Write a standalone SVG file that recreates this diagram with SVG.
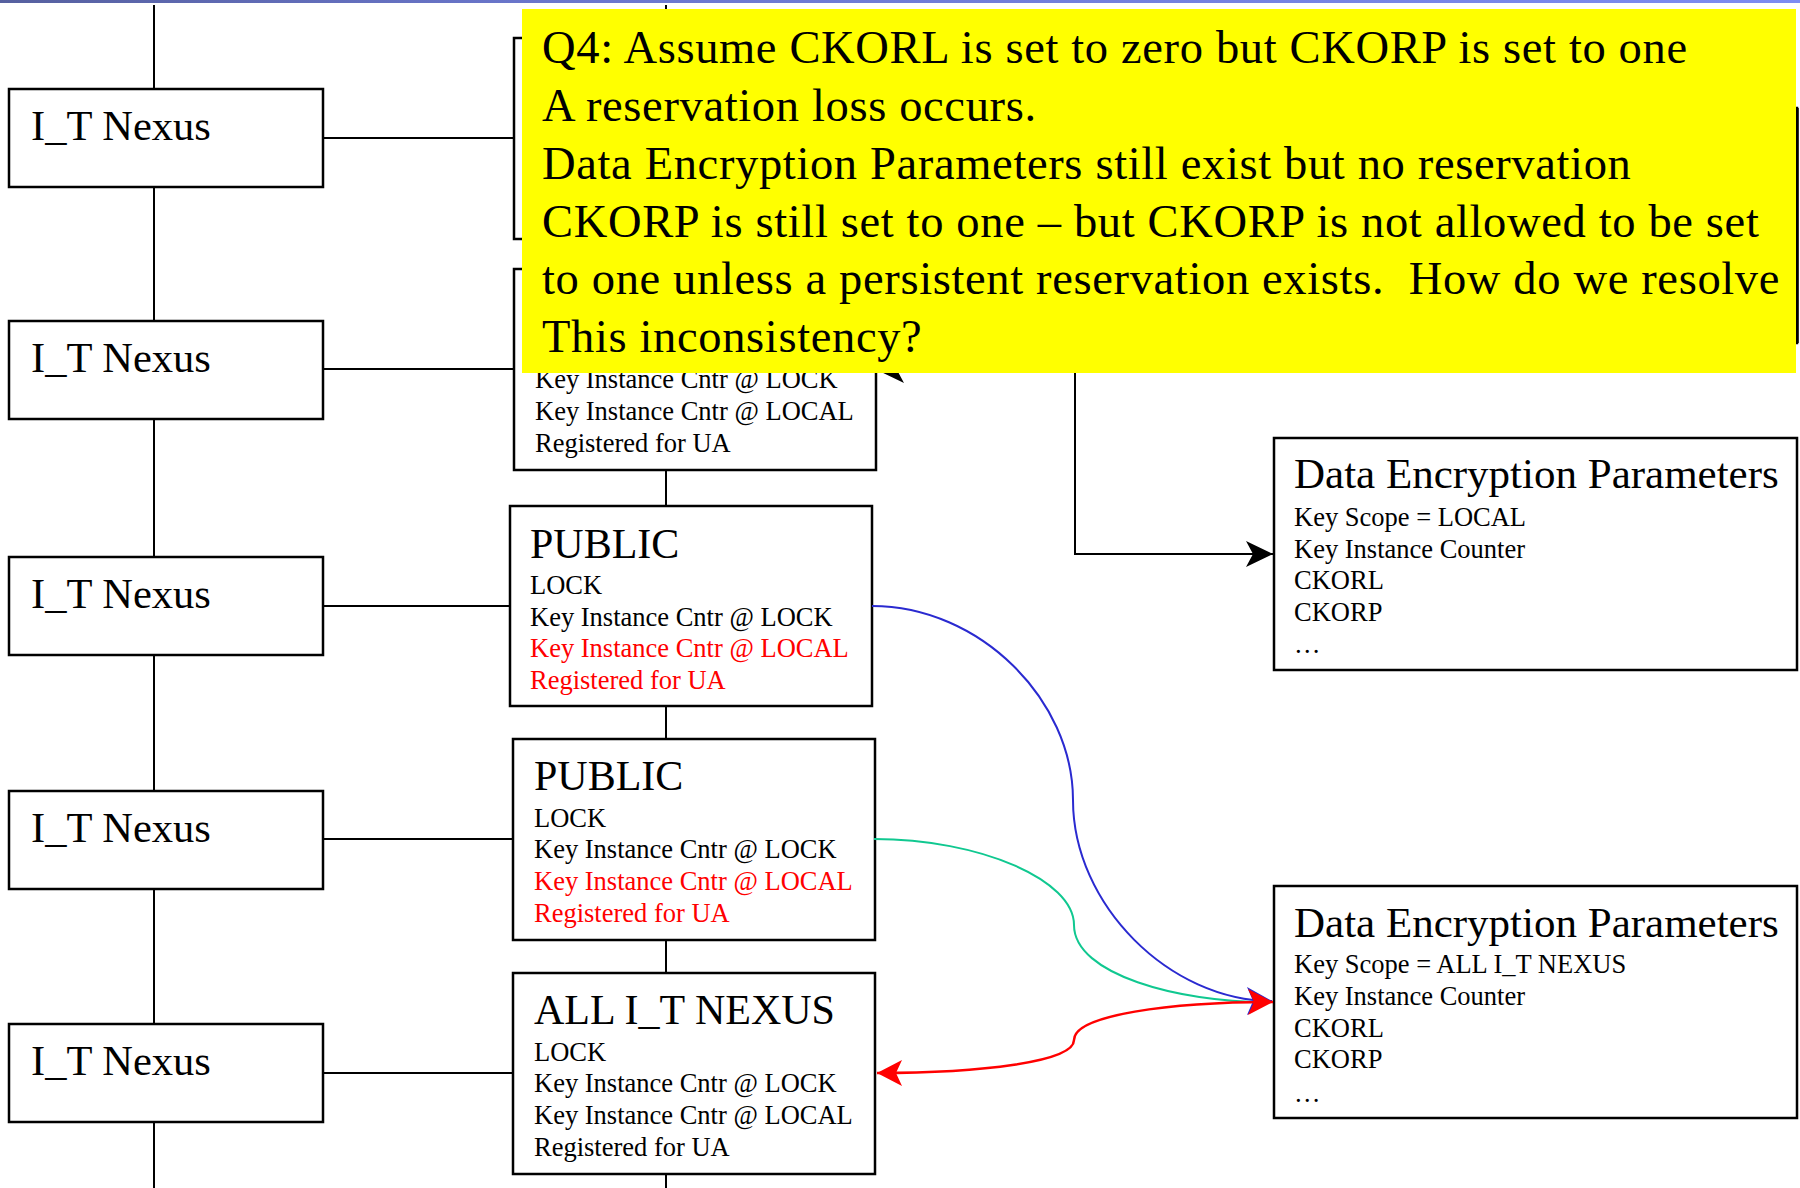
<svg xmlns="http://www.w3.org/2000/svg" width="1800" height="1188" viewBox="0 0 1800 1188">
  <style>
    text { font-family: "Liberation Serif", "Times New Roman", serif; fill: #000; }
    .box { fill: #fff; stroke: #000; stroke-width: 2.5; }
    .wire { fill: none; stroke: #000; stroke-width: 2; }
    .nexus { font-size: 42.5px; }
    .title { font-size: 42px; }
    .dep { font-size: 43px; }
    .item { font-size: 26.5px; }
    .red { fill: #ff0000; }
    .note { font-size: 46.5px; letter-spacing: 0.65px; }
  </style>
  <defs>
    <linearGradient id="band" x1="0" y1="0" x2="1" y2="0">
      <stop offset="0" stop-color="#56609f"/>
      <stop offset="0.3" stop-color="#6a76cc"/>
      <stop offset="1" stop-color="#7d8cf2"/>
    </linearGradient>
    <marker id="headBlack" viewBox="-30 -15 32 30" markerWidth="32" markerHeight="30" refX="0" refY="0" markerUnits="userSpaceOnUse" orient="auto-start-reverse">
      <path d="M0,0 L-27,-13 L-20,0 L-27,13 Z" fill="#000"/>
    </marker>
    <marker id="headRed" viewBox="-30 -15 32 30" markerWidth="32" markerHeight="30" refX="0" refY="0" markerUnits="userSpaceOnUse" orient="auto-start-reverse">
      <path d="M0,0 L-25,-13 L-19,0 L-25,13 Z" fill="#ff0000"/>
    </marker>
    <marker id="headBlue" viewBox="-30 -15 32 30" markerWidth="32" markerHeight="30" refX="0" refY="0" markerUnits="userSpaceOnUse" orient="auto">
      <path d="M0,0 L-25,-14 L-19,0 L-25,14 Z" fill="#2a2ad0"/>
    </marker>
  </defs>

  <rect width="1800" height="1188" fill="#fff"/>
  <rect x="0" y="0" width="1800" height="3" fill="url(#band)"/>

  <!-- trunk lines and elbow links -->
  <g id="connectors">
    <line class="wire" x1="154" y1="5" x2="154" y2="1188"/>
    <line class="wire" x1="666" y1="5" x2="666" y2="1188"/>
    <line class="wire" x1="323" y1="138" x2="514" y2="138"/>
    <line class="wire" x1="323" y1="369" x2="514" y2="369"/>
    <line class="wire" x1="323" y1="606" x2="510" y2="606"/>
    <line class="wire" x1="323" y1="839" x2="513" y2="839"/>
    <line class="wire" x1="323" y1="1073" x2="513" y2="1073"/>
    <path class="wire" d="M877,370 H1075 V554 H1273" marker-start="url(#headBlack)" marker-end="url(#headBlack)"/>
  </g>

  <!-- I_T nexus column -->
  <g id="nexus1"><rect class="box" x="9" y="89" width="314" height="98"/><text class="nexus" x="31" y="140">I_T Nexus</text></g>
  <g id="nexus2"><rect class="box" x="9" y="321" width="314" height="98"/><text class="nexus" x="31" y="372">I_T Nexus</text></g>
  <g id="nexus3"><rect class="box" x="9" y="557" width="314" height="98"/><text class="nexus" x="31" y="608">I_T Nexus</text></g>
  <g id="nexus4"><rect class="box" x="9" y="791" width="314" height="98"/><text class="nexus" x="31" y="842">I_T Nexus</text></g>
  <g id="nexus5"><rect class="box" x="9" y="1024" width="314" height="98"/><text class="nexus" x="31" y="1075">I_T Nexus</text></g>

  <!-- reservation column -->
  <g id="resA"><rect class="box" x="514" y="38" width="362" height="201"/></g>
  <g id="resB">
    <rect class="box" x="514" y="269" width="362" height="201"/>
    <text class="item" x="535" y="388">Key Instance Cntr @ LOCK</text>
    <text class="item" x="535" y="420">Key Instance Cntr @ LOCAL</text>
    <text class="item" x="535" y="452">Registered for UA</text>
  </g>
  <g id="resC">
    <rect class="box" x="510" y="506" width="362" height="200"/>
    <text class="title" x="530" y="558">PUBLIC</text>
    <text class="item" x="530" y="594">LOCK</text>
    <text class="item" x="530" y="626">Key Instance Cntr @ LOCK</text>
    <text class="item red" x="530" y="657">Key Instance Cntr @ LOCAL</text>
    <text class="item red" x="530" y="689">Registered for UA</text>
  </g>
  <g id="resD">
    <rect class="box" x="513" y="739" width="362" height="201"/>
    <text class="title" x="534" y="790">PUBLIC</text>
    <text class="item" x="534" y="827">LOCK</text>
    <text class="item" x="534" y="858">Key Instance Cntr @ LOCK</text>
    <text class="item red" x="534" y="890">Key Instance Cntr @ LOCAL</text>
    <text class="item red" x="534" y="922">Registered for UA</text>
  </g>
  <g id="resE">
    <rect class="box" x="513" y="973" width="362" height="201"/>
    <text class="title" x="534" y="1024">ALL I_T NEXUS</text>
    <text class="item" x="534" y="1061">LOCK</text>
    <text class="item" x="534" y="1092">Key Instance Cntr @ LOCK</text>
    <text class="item" x="534" y="1124">Key Instance Cntr @ LOCAL</text>
    <text class="item" x="534" y="1156">Registered for UA</text>
  </g>

  <!-- encryption parameter blocks -->
  <g id="depHidden"><rect class="box" x="1274" y="108" width="523" height="235"/></g>
  <g id="dep1">
    <rect class="box" x="1274" y="438" width="523" height="232"/>
    <text class="dep" x="1294" y="488">Data Encryption Parameters</text>
    <text class="item" x="1294" y="526">Key Scope = LOCAL</text>
    <text class="item" x="1294" y="558">Key Instance Counter</text>
    <text class="item" x="1294" y="589">CKORL</text>
    <text class="item" x="1294" y="621">CKORP</text>
    <text class="item" x="1294" y="653">…</text>
  </g>
  <g id="dep2">
    <rect class="box" x="1274" y="886" width="523" height="232"/>
    <text class="dep" x="1294" y="937">Data Encryption Parameters</text>
    <text class="item" x="1294" y="973">Key Scope = ALL I_T NEXUS</text>
    <text class="item" x="1294" y="1005">Key Instance Counter</text>
    <text class="item" x="1294" y="1037">CKORL</text>
    <text class="item" x="1294" y="1068">CKORP</text>
    <text class="item" x="1294" y="1102">…</text>
  </g>

  <!-- key links into the ALL I_T NEXUS parameters -->
  <g id="links">
    <path d="M874,839 C980,839 1074,880 1074,925 C1074,975 1180,1002 1265,1002" fill="none" stroke="#10c890" stroke-width="2"/>
    <path d="M872,606 C980,606 1073,700 1073,800 C1073,905 1170,1001 1272,1001" fill="none" stroke="#2a2ad0" stroke-width="2" marker-end="url(#headBlue)"/>
    <path d="M877,1073 C980,1073 1074,1062 1074,1040 C1074,1015 1170,1002 1273,1002" fill="none" stroke="#ff0000" stroke-width="2.5" marker-start="url(#headRed)" marker-end="url(#headRed)"/>
  </g>

  <!-- question callout -->
  <g id="callout">
    <rect x="522" y="9" width="1274" height="364" fill="#ffff00"/>
    <text class="note" x="542" y="63">Q4: Assume CKORL is set to zero but CKORP is set to one</text>
    <text class="note" x="542" y="121">A reservation loss occurs.</text>
    <text class="note" x="542" y="179">Data Encryption Parameters still exist but no reservation</text>
    <text class="note" x="542" y="237">CKORP is still set to one – but CKORP is not allowed to be set</text>
    <text class="note" x="542" y="294" xml:space="preserve">to one unless a persistent reservation exists.  How do we resolve</text>
    <text class="note" x="542" y="352">This inconsistency?</text>
  </g>
  <line x1="1797.5" y1="108" x2="1797.5" y2="343" stroke="#000" stroke-width="2.5"/>
</svg>
